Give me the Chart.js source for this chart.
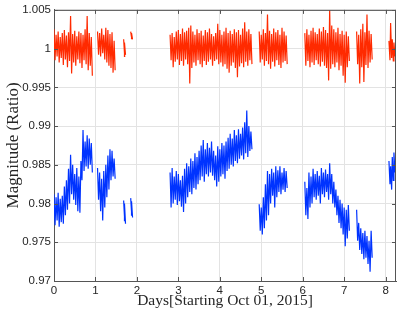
<!DOCTYPE html>
<html>
<head>
<meta charset="utf-8">
<script src="https://cdn.jsdelivr.net/npm/chart.js@4.4.1/dist/chart.umd.min.js"></script>
<style>
html,body{margin:0;padding:0;background:#fff;}
#wrap{width:416px;height:314px;}
</style>
</head>
<body>
<div id="wrap"><canvas id="c" width="416" height="314"></canvas></div>
<script>
// ---- Data ----
const xTickLabels = ['0','1','2','3','4','5','6','7','8'];
const yTickLabels = ['0.97','0.975','0.98','0.985','0.99','0.995','1','1.005'];

// Red series (upper band): day, local low, local high
const redDays = [
  0,0.05,0.1,0.15,0.2,0.25,0.3,0.35,0.4,0.45,0.5,0.55,0.6,0.65,0.7,0.75,0.8,0.85,0.9,
  1.05,1.1,1.15,1.2,1.25,1.3,1.35,1.4,1.45,
  1.68,1.70,
  1.85,1.87,
  2.8,2.85,2.9,2.95,3.0,3.05,3.1,3.15,3.2,3.25,3.3,3.35,3.4,3.45,3.5,3.55,3.6,3.65,3.7,3.75,
  3.8,3.85,3.9,3.95,4.0,4.05,4.1,4.15,4.2,4.25,4.3,4.35,4.4,4.45,4.5,4.55,4.6,4.65,4.7,4.75,
  4.95,5.0,5.05,5.1,5.15,5.2,5.25,5.3,5.35,5.4,5.45,5.5,5.55,5.6,
  6.05,6.1,6.15,6.2,6.25,6.3,6.35,6.4,6.45,6.5,6.55,6.6,6.65,6.7,6.75,6.8,6.85,6.9,6.95,7.0,7.05,7.1,
  7.3,7.35,7.4,7.45,7.5,7.55,7.6,7.65,
  8.08,8.12,8.16,8.2
];
const redHigh = [
  1.0025,1.0018,1.0022,1.0015,1.0020,1.0024,1.0017,1.0021,1.0042,1.0019,1.0023,1.0016,1.0022,1.0020,1.0018,1.0025,1.0042,1.0020,1.0015,
  1.0022,1.0020,1.0026,1.0018,1.0027,1.0024,1.0019,1.0021,1.0010,
  1.0012,1.0008,
  1.0022,1.0020,
  1.0018,1.0020,1.0015,1.0022,1.0024,1.0019,1.0026,1.0021,1.0023,1.0027,1.0030,1.0022,1.0018,1.0025,1.0020,1.0023,1.0017,1.0024,1.0021,1.0026,
  1.0019,1.0016,1.0020,1.0032,1.0024,1.0018,1.0022,1.0027,1.0020,1.0023,1.0019,1.0025,1.0021,1.0024,1.0018,1.0026,1.0034,1.0022,1.0025,1.0019,
  1.0022,1.0018,1.0025,1.0020,1.0044,1.0023,1.0019,1.0026,1.0021,1.0024,1.0018,1.0027,1.0022,1.0017,
  1.0020,1.0025,1.0018,1.0023,1.0027,1.0021,1.0019,1.0026,1.0022,1.0028,1.0024,1.0020,1.0050,1.0030,1.0025,1.0021,1.0027,1.0019,1.0023,1.0018,1.0022,1.0016,
  1.0022,1.0018,1.0025,1.0032,1.0021,1.0044,1.0023,1.0019,
  1.0010,1.0033,1.0012,1.0008
];
const redLow = [
  0.9985,0.9990,0.9982,0.9988,0.9979,0.9986,0.9976,0.9984,0.9968,0.9982,0.9978,0.9986,0.9981,0.9975,0.9985,0.9980,0.9972,0.9978,0.9965,
  0.9992,0.9990,0.9994,0.9986,0.9982,0.9978,0.9975,0.9969,0.9972,
  0.9990,0.9992,
  1.0013,1.0012,
  0.9985,0.9976,0.9983,0.9986,0.9979,0.9984,0.9978,0.9986,0.9980,0.9955,0.9975,0.9982,0.9978,0.9985,0.9980,0.9976,0.9984,0.9979,0.9983,0.9986,
  0.9978,0.9984,0.9986,0.9980,0.9982,0.9977,0.9980,0.9974,0.9969,0.9978,0.9982,0.9975,0.9963,0.9977,0.9981,0.9976,0.9983,0.9978,0.9985,0.9980,
  0.9982,0.9986,0.9978,0.9984,0.9980,0.9974,0.9983,0.9977,0.9985,0.9979,0.9975,0.9982,0.9984,0.9980,
  0.9978,0.9984,0.9976,0.9982,0.9979,0.9985,0.9980,0.9977,0.9983,0.9978,0.9975,0.9959,0.9974,0.9980,0.9976,0.9982,0.9972,0.9978,0.9965,0.9956,0.9976,0.9984,
  0.9980,0.9955,0.9976,0.9957,0.9979,0.9975,0.9982,0.9986,
  0.9985,0.9988,0.9984,0.9990
];

// Blue series (lower band)
const blueDays = redDays;
const blueHigh = [
  0.9812,0.9808,0.9814,0.9806,0.9810,0.9822,0.9830,0.9845,0.9863,0.9850,0.9838,0.9846,0.9835,0.9855,0.9895,0.9880,0.9888,0.9884,0.9878,
  0.9846,0.9840,0.9832,0.9842,0.9850,0.9862,0.9870,0.9868,0.9858,
  0.9804,0.9800,
  0.9807,0.9803,
  0.9840,0.9846,0.9835,0.9842,0.9838,0.9830,0.9836,0.9845,0.9852,0.9848,0.9858,0.9855,0.9865,0.9860,0.9868,0.9875,0.9882,0.9870,0.9878,0.9872,
  0.9880,0.9868,0.9862,0.9874,0.9870,0.9878,0.9875,0.9880,0.9885,0.9890,0.9884,0.9895,0.9888,0.9896,0.9890,0.9898,0.9905,0.9920,0.9900,0.9893,
  0.9799,0.9795,0.9808,0.9825,0.9842,0.9838,0.9845,0.9840,0.9848,0.9843,0.9848,0.9840,0.9846,0.9842,
  0.9828,0.9820,0.9840,0.9835,0.9845,0.9838,0.9842,0.9836,0.9846,0.9840,0.9844,0.9838,0.9852,0.9838,0.9828,0.9818,0.9810,0.9805,0.9800,0.9795,0.9792,0.9798,
  0.9792,0.9775,0.9768,0.9762,0.9765,0.9758,0.9752,0.9765,
  0.9855,0.9848,0.9860,0.9866
];
const blueLow = [
  0.9772,0.9778,0.9770,0.9776,0.9774,0.9785,0.9792,0.9800,0.9812,0.9805,0.9798,0.9790,0.9788,0.9830,0.9842,0.9848,0.9845,0.9850,0.9840,
  0.9805,0.9790,0.9778,0.9795,0.9808,0.9818,0.9830,0.9835,0.9832,
  0.9778,0.9774,
  0.9785,0.9782,
  0.9795,0.9800,0.9805,0.9798,0.9803,0.9796,0.9789,0.9800,0.9808,0.9815,0.9812,0.9820,0.9818,0.9825,0.9830,0.9835,0.9828,0.9838,0.9835,0.9840,
  0.9836,0.9830,0.9822,0.9828,0.9835,0.9838,0.9832,0.9842,0.9845,0.9850,0.9848,0.9855,0.9852,0.9858,0.9862,0.9857,0.9865,0.9860,0.9868,0.9870,
  0.9765,0.9760,0.9768,0.9778,0.9785,0.9800,0.9810,0.9795,0.9808,0.9815,0.9812,0.9818,0.9815,0.9820,
  0.9785,0.9780,0.9795,0.9800,0.9808,0.9805,0.9810,0.9800,0.9812,0.9808,0.9815,0.9805,0.9812,0.9800,0.9795,0.9785,0.9775,0.9768,0.9760,0.9745,0.9755,0.9765,
  0.9752,0.9740,0.9735,0.9728,0.9730,0.9722,0.9712,0.9730,
  0.9825,0.9818,0.9830,0.9840
];

// ---- Zig-zag traces between each sample's high and low, with gaps between runs ----
function buildTrace(days, low, high) {
  const pts = [];
  for (let i = 0; i < days.length; i++) {
    if (i > 0 && days[i] - days[i - 1] > 0.09) {
      pts.push({x: (days[i] + days[i - 1]) / 2, y: null});
    }
    pts.push({x: days[i], y: high[i]});
    pts.push({x: days[i] + 0.025, y: low[i]});
  }
  return pts;
}

const frameColor = '#555555';
const framePlugin = {
  id: 'frame',
  afterDraw(chart) {
    const {ctx, chartArea: a, scales} = chart;
    ctx.save();
    ctx.strokeStyle = frameColor;
    ctx.lineWidth = 1;
    ctx.beginPath();
    ctx.moveTo(a.left, a.top + 0.5); ctx.lineTo(a.right, a.top + 0.5);
    ctx.moveTo(a.right - 0.5, a.top); ctx.lineTo(a.right - 0.5, a.bottom);
    const tl = 4;
    scales.x.ticks.forEach(t => {
      const px = Math.round(scales.x.getPixelForValue(t.value)) + 0.5;
      ctx.moveTo(px, a.bottom); ctx.lineTo(px, a.bottom - tl);
      ctx.moveTo(px, a.top); ctx.lineTo(px, a.top + tl);
    });
    scales.y.ticks.forEach(t => {
      const py = Math.round(scales.y.getPixelForValue(t.value)) + 0.5;
      ctx.moveTo(a.left, py); ctx.lineTo(a.left + tl, py);
      ctx.moveTo(a.right, py); ctx.lineTo(a.right - tl, py);
    });
    ctx.stroke();
    ctx.restore();
  }
};

new Chart(document.getElementById('c'), {
  type: 'line',
  data: {
    datasets: [
      {data: buildTrace(redDays, redLow, redHigh), borderColor: '#ff2a00', borderWidth: 1.2, pointRadius: 0, spanGaps: false, tension: 0},
      {data: buildTrace(blueDays, blueLow, blueHigh), borderColor: '#0033ff', borderWidth: 1.2, pointRadius: 0, spanGaps: false, tension: 0}
    ]
  },
  options: {
    responsive: false,
    animation: false,
    layout: {padding: {top: 7, right: 20, left: 0, bottom: 0}},
    plugins: {legend: {display: false}, tooltip: {enabled: false}},
    scales: {
      x: {
        type: 'linear', min: 0, max: 8.25,
        afterFit(s) { s.height = 33; },
        ticks: {stepSize: 1, includeBounds: false, padding: 3, color: '#262626', maxRotation: 0,
          font: {family: 'Liberation Sans, Arial, sans-serif', size: 11.5},
          callback: (v) => xTickLabels[Math.round(v)]},
        grid: {color: '#e3e3e3', drawTicks: false},
        border: {display: true, color: frameColor, width: 1},
        title: {display: true, text: 'Days[Starting Oct 01, 2015]', color: '#262626',
          font: {family: 'Liberation Serif, Times New Roman, serif', size: 15.5}, padding: {top: 0, bottom: 4}}
      },
      y: {
        type: 'linear', min: 0.97, max: 1.005,
        afterFit(s) { s.width = 54; },
        ticks: {stepSize: 0.005, includeBounds: false, padding: 3, color: '#262626',
          font: {family: 'Liberation Sans, Arial, sans-serif', size: 11.5},
          callback: (v, i) => yTickLabels[i]},
        grid: {color: '#e3e3e3', drawTicks: false},
        border: {display: true, color: frameColor, width: 1},
        title: {display: true, text: 'Magnitude (Ratio)', color: '#262626',
          font: {family: 'Liberation Serif, Times New Roman, serif', size: 17}, padding: {top: 3, bottom: 0}}
      }
    }
  },
  plugins: [framePlugin]
});
</script>
</body>
</html>
